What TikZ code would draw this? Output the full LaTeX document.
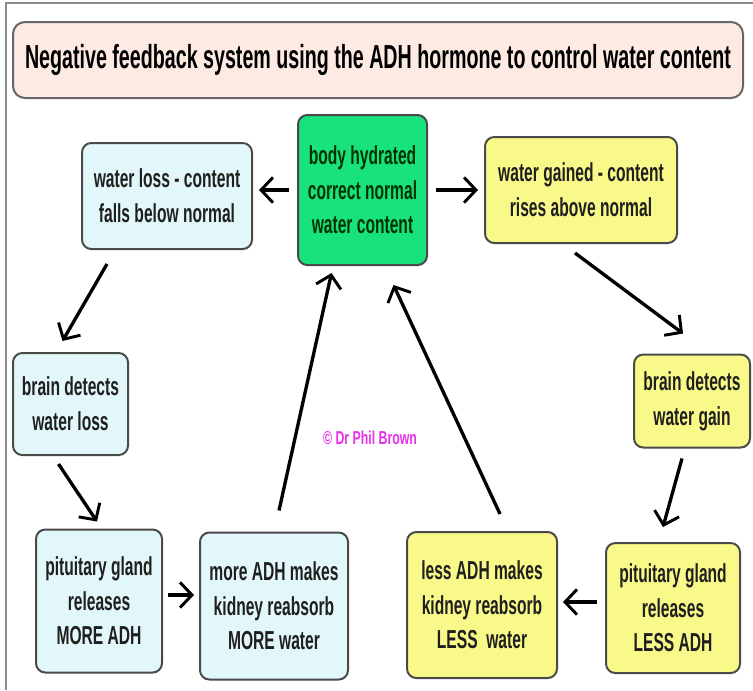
\documentclass[tikz,border=0pt]{standalone}
\usepackage{fontspec}
\setmainfont{Liberation Sans}
\newfontfamily\narrowfont[FakeStretch=0.6]{Liberation Sans Bold}
\newfontfamily\titlefont[FakeStretch=0.59]{Liberation Sans Bold}
\newfontfamily\copyfont[FakeStretch=0.66]{Liberation Sans Bold}
\usetikzlibrary{arrows.meta,calc}
\definecolor{cyanfill}{HTML}{E2F7F9}
\definecolor{yellowfill}{HTML}{F9F98A}
\definecolor{greenfill}{HTML}{18E27C}
\definecolor{titlefill}{HTML}{FCEAE3}
\definecolor{boxline}{HTML}{4A4A4A}
\definecolor{copyc}{HTML}{E830E8}
\tikzset{
  box/.style={draw=boxline, line width=1.5pt, rounded corners=7pt, align=center,
    inner sep=0pt, font=\narrowfont\fontsize{19.5}{26}\selectfont, text=black!88},
  cbox/.style={box, fill=cyanfill},
  ybox/.style={box, fill=yellowfill},
  gbox/.style={box, fill=greenfill, text=black!80!green},
  arr/.style={draw=black, line width=2.5pt, -{Straight Barb[length=9pt,width=19pt,line width=2.2pt]}}
}
\begin{document}
\begin{tikzpicture}[x=0.75pt,y=-0.75pt]
\useasboundingbox (0,0) rectangle (753,690);
\fill[white] (0,0) rectangle (753,690);
% outer frame
\draw[black!45, line width=1.5pt] (6,690) -- (6,3) -- (753,3);
% title
\node[draw=black!60, line width=1.5pt, fill=titlefill, rounded corners=9pt,
  minimum width=730*0.75pt, minimum height=76*0.75pt, inner sep=0pt,
  font=\titlefont\fontsize{25}{26}\selectfont] (title) at (378,60)
  {Negative feedback system using the ADH hormone to control water content};
% nodes
\node[gbox, minimum width=129*0.75pt, minimum height=150*0.75pt] (green) at (362.5,190)
  {body hydrated\\correct normal\\water content};
\node[cbox, minimum width=170*0.75pt, minimum height=106*0.75pt] (loss) at (167,196)
  {water loss - content\\falls below normal};
\node[ybox, minimum width=192*0.75pt, minimum height=106*0.75pt] (gained) at (581,190)
  {water gained - content\\rises above normal};
\node[cbox, minimum width=115*0.75pt, minimum height=102*0.75pt] (brainL) at (70.5,404)
  {brain detects\\water loss};
\node[cbox, minimum width=126*0.75pt, minimum height=143*0.75pt] (pitM) at (99,601)
  {pituitary gland\\releases\\MORE ADH};
\node[cbox, minimum width=148*0.75pt, minimum height=147*0.75pt] (moreADH) at (274,606)
  {more ADH makes\\kidney reabsorb\\MORE water};
\node[ybox, minimum width=116*0.75pt, minimum height=93*0.75pt] (brainG) at (692,401)
  {brain detects\\water gain};
\node[ybox, minimum width=134*0.75pt, minimum height=130*0.75pt] (pitL) at (673,608)
  {pituitary gland\\releases\\LESS ADH};
\node[ybox, minimum width=150*0.75pt, minimum height=146*0.75pt] (lessADH) at (482,605)
  {less ADH makes\\kidney reabsorb\\LESS\ \ water};
\node[text=copyc, font=\copyfont\fontsize{14}{16}\selectfont] (copy) at (370,438) {© Dr Phil Brown};
% arrows
\draw[arr] ($(green.west)+(-8,0)$) -- ($(green.west -| loss.east)+(6,0)$);
\draw[arr] ($(green.east)+(8,0)$) -- ($(green.east -| gained.west)+(-6,0)$);
\draw[arr] ($(loss.south)+(-60,14)$) -- ($(brainL.north)+(-8,-11)$);
\draw[arr] ($(brainL.south)+(-12,8)$) -- ($(pitM.north)+(-2,-7)$);
\draw[arr] ($(pitM.east)+(5,-6)$) -- ($(moreADH.west)+(-5,-11)$);
\draw[arr] ($(moreADH.north)+(5,-21)$) -- ($(green.south)+(-31,7)$);
\draw[arr] ($(gained.south)+(-6,9)$) -- ($(brainG.north)+(-9,-20)$);
\draw[arr] ($(brainG.south)+(-10,10)$) -- ($(pitL.north)+(-10,-15)$);
\draw[arr] ($(pitL.west)+(-8,-6)$) -- ($(lessADH.east)+(5,-3)$);
\draw[arr] ($(lessADH.north)+(18,-17)$) -- ($(green.south)+(31,19)$);
\end{tikzpicture}
\end{document}
